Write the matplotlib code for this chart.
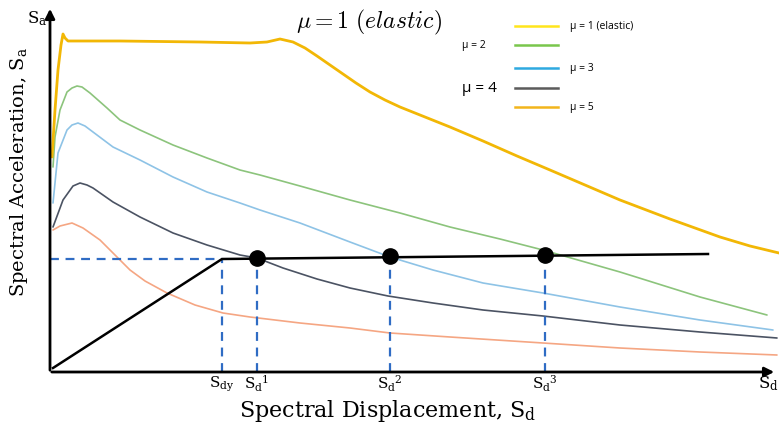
import numpy as np
import matplotlib
matplotlib.use("Agg")
import matplotlib.pyplot as plt

plt.rcParams['font.family'] = 'DejaVu Serif'
plt.rcParams['mathtext.fontset'] = 'dejavuserif'

# spectra (arbitrary units, origin at the axes corner)
elastic_x = [2, 5, 8, 11, 13, 15, 18, 70, 150, 200, 217, 230, 243, 255, 267, 280, 293, 306, 320, 335,
             350, 370, 400, 433, 467, 500, 535, 570, 620, 670, 700, 729]
elastic_y = [215, 262, 302, 327, 338, 334, 331, 331, 330, 329, 330, 333, 330, 324, 316, 307, 298, 289, 280, 272,
             265, 257, 245, 231, 216, 202, 187, 172, 153, 135, 126, 119]

mu2_x = [3, 5, 10, 17, 22, 27, 32, 40, 57, 70, 90, 123, 157, 190, 210, 250, 300, 350, 400, 450, 493, 570, 650, 717]
mu2_y = [205, 235, 262, 280, 284, 286, 285, 279, 264, 252, 242, 227, 214, 202, 197, 186, 172, 159, 145, 133,
         122, 100, 75, 57]

mu3_x = [3, 8, 17, 22, 28, 35, 43, 63, 90, 123, 157, 190, 210, 250, 300, 340, 383, 433, 493, 570, 650, 723]
mu3_y = [169, 219, 242, 247, 249, 246, 240, 225, 212, 195, 180, 169, 162, 149, 130, 115, 102, 89, 79, 65, 52, 42]

mu4_x = [3, 13, 23, 30, 37, 43, 63, 90, 123, 157, 190, 207, 233, 267, 300, 338, 383, 433, 493, 570, 650, 727]
mu4_y = [145, 172, 186, 189, 187, 184, 170, 155, 139, 127, 117, 114, 104, 93, 84, 76, 69, 62, 56, 47, 40, 34]

mu5_x = [3, 10, 22, 33, 50, 67, 80, 95, 117, 145, 173, 200, 250, 300, 340, 400, 493, 570, 650, 727]
mu5_y = [142, 146, 149, 144, 132, 115, 102, 91, 79, 67, 59, 55, 49, 44, 39, 35, 29, 24, 20, 17]

# capacity curve and performance points
cap_x = [3, 172, 658]
cap_y = [4, 113, 118]
sdy = 172
say = 113
pts_x = [207, 340, 495]
pts_y = [114, 116, 117]
tick_pos = [172, 207, 340, 495]
tick_labels = [r'S$_{\mathrm{dy}}$', r'S$_{\mathrm{d}}$$^{1}$', r'S$_{\mathrm{d}}$$^{2}$', r'S$_{\mathrm{d}}$$^{3}$']

legend_labels = ['\u03bc = 1 (elastic)', '\u03bc = 2', '\u03bc = 3', '\u03bc = 4', '\u03bc = 5']
legend_colors = ['#FFE51C', '#79C64C', '#2EA9E0', '#5B5B5B', '#F2B51C']

fig = plt.figure(figsize=(7.79, 4.25), dpi=100)
ax = fig.add_axes([0, 0, 1, 1])
ax.set_xlim(-50, 729)
ax.set_ylim(-53, 372)
ax.axis('off')

kw = dict(solid_joinstyle='round', solid_capstyle='round')
ax.plot(elastic_x, elastic_y, color='#F2B705', lw=2, zorder=3, **kw)
ax.plot(mu2_x, mu2_y, color='#8CC47C', lw=1.2, **kw)
ax.plot(mu3_x, mu3_y, color='#8EC3E6', lw=1.2, **kw)
ax.plot(mu4_x, mu4_y, color='#4B5363', lw=1.2, **kw)
ax.plot(mu5_x, mu5_y, color='#F5A683', lw=1.2, **kw)

# dashed guides
dash = dict(color='#2F6CC4', lw=1.6, ls=(0, (4, 3)))
ax.plot([0, sdy], [say, say], **dash)
for xp in tick_pos:
    ax.plot([xp, xp], [0, np.interp(xp, cap_x, cap_y)], **dash)

ax.plot(cap_x, cap_y, color='black', lw=1.8, zorder=4)
ax.plot(pts_x, pts_y, 'o', color='black', ms=11, zorder=5)

# axes arrows
ax.annotate('', xy=(727, 0), xytext=(-1, 0),
            arrowprops=dict(arrowstyle='-|>', color='black', lw=2, mutation_scale=14))
ax.annotate('', xy=(0, 366), xytext=(0, -1),
            arrowprops=dict(arrowstyle='-|>', color='black', lw=2, mutation_scale=14))

for xp, lab in zip(tick_pos, tick_labels):
    ax.text(xp, -12, lab, ha='center', va='center', fontsize=11)
ax.text(-13, 353, r'S$_{\mathrm{a}}$', ha='center', va='center', fontsize=12)
ax.text(718, -12, r'S$_{\mathrm{d}}$', ha='center', va='center', fontsize=12)

ax.text(338, -39, r'Spectral Displacement, S$_{\mathrm{d}}$', ha='center', va='center', fontsize=16)
ax.text(-31, 200, r'Spectral Acceleration, S$_{\mathrm{a}}$', ha='center', va='center',
        rotation=90, fontsize=14)

ax.text(319, 350, r'$\mu = 1\ (elastic)$', ha='center', va='center', fontsize=17,
        math_fontfamily='cm')

# hand-made legend
leg_y = [346, 327, 304, 284, 265]
for yy, c in zip(leg_y, legend_colors):
    ax.plot([465, 508], [yy, yy], color=c, lw=1.8)
sans = 'Open Sans'
ax.text(520, leg_y[0], legend_labels[0], ha='left', va='center', fontsize=7.5, family=sans)
ax.text(412, leg_y[1], legend_labels[1], ha='left', va='center', fontsize=7.5, family=sans)
ax.text(520, leg_y[2], legend_labels[2], ha='left', va='center', fontsize=7.5, family=sans)
ax.text(412, leg_y[3], legend_labels[3], ha='left', va='center', fontsize=11, family=sans)
ax.text(520, leg_y[4], legend_labels[4], ha='left', va='center', fontsize=7.5, family=sans)

fig.savefig('out.png', dpi=100)
